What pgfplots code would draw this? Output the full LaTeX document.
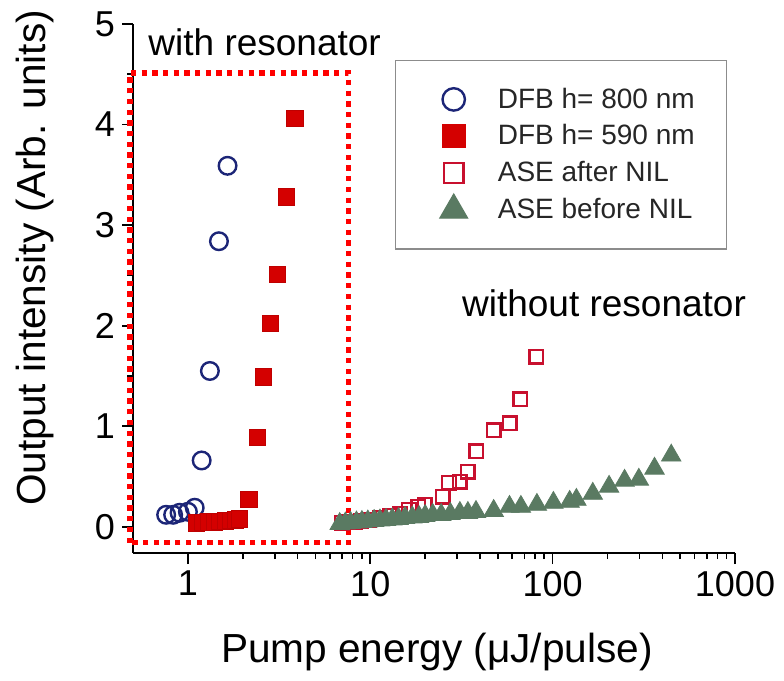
\documentclass[border=0pt]{standalone}
\usepackage{fontspec}
\setmainfont{Liberation Sans}
\usepackage{pgfplots}
\pgfplotsset{compat=1.18}

\definecolor{dfbblue}{HTML}{1C2577}
\definecolor{dfbred}{HTML}{D40000}
\definecolor{aseopen}{HTML}{C8102E}
\definecolor{asegreen}{HTML}{5A7A62}

\begin{document}
\begin{tikzpicture}
\path[use as bounding box] (-66.5pt,-64pt) rectangle (325.5pt,276.5pt);
\begin{axis}[
  scale only axis, width=301pt, height=264.5pt,
  xmode=log, xmin=0.5, xmax=1000, ymin=-0.26, ymax=5,
  axis lines*=left, tick pos=left,
  xtick={1,10,100,1000}, xticklabels={1,10,100,1000},
  ytick={0,1,2,3,4,5}, minor ytick={0.5,1.5,2.5,3.5,4.5},
  tick align=outside, major tick length=5.5pt, minor tick length=3pt,
  every tick/.style={black, line width=0.8pt},
  axis line style={line width=1pt},
  tick label style={font=\fontsize{18}{18}\selectfont},
  /pgf/number format/assume math mode=true,
  xlabel={Pump energy (μJ/pulse)},
  ylabel={Output intensity (Arb. units)},
  label style={font=\fontsize{20.3}{20.3}\selectfont},
  xlabel style={at={(axis description cs:0.505,0)}, anchor=base, yshift=-55pt},
  ylabel style={at={(axis description cs:-0.145,0.558)}, anchor=base},
  clip=false,
  legend cell align=left,
  legend image code/.code={
    \path (-6pt,0pt) (17pt,0pt);
    \draw[mark repeat=2, mark phase=2, #1] plot coordinates {(0cm,0cm) (0.3cm,0cm) (0.6cm,0cm)};},
  legend style={at={(axis description cs:0.435,0.932)}, anchor=north west,
    draw=black!45, line width=0.6pt, inner xsep=14pt, inner ysep=11.6pt,
    row sep=2.75pt, column sep=11pt, text=black!85,
    font=\fontsize{14}{14}\selectfont},
]
% DFB h = 800 nm
\addplot[forget plot, only marks, mark=o, mark size=4.4pt, dfbblue, line width=1.2pt]
  coordinates {(0.76,0.12) (0.83,0.12) (0.90,0.14) (1.0,0.15) (1.09,0.19)
  (1.19,0.66) (1.32,1.55) (1.48,2.84) (1.65,3.59)};
% DFB h = 590 nm
\addplot[forget plot, only marks, mark=square*, mark size=4.1pt, draw=dfbred!90!black, fill=dfbred]
  coordinates {(1.11,0.04) (1.2,0.045) (1.3,0.05) (1.4,0.05) (1.5,0.055) (1.6,0.06)
  (1.72,0.065) (1.82,0.07) (1.92,0.08) (2.16,0.27) (2.40,0.89) (2.59,1.49)
  (2.84,2.02) (3.09,2.51) (3.47,3.28) (3.86,4.06)};
% ASE after NIL
\addplot[forget plot, only marks, mark=square, mark size=3.4pt, aseopen, line width=1.2pt]
  coordinates {(7.0,0.04) (7.6,0.045) (8.2,0.05) (8.9,0.055) (9.9,0.07) (11.3,0.09)
  (12.8,0.11) (14.5,0.13) (16.3,0.17) (18.3,0.20) (19.9,0.22) (24.9,0.30)
  (27.0,0.44) (30.9,0.45) (34.3,0.55) (38.2,0.75) (47.5,0.96) (58.1,1.03)
  (66.5,1.27) (81.4,1.69)};
% ASE before NIL
\addplot[forget plot, only marks, mark=triangle*, mark size=5.6pt, draw=asegreen, fill=asegreen]
  coordinates {(6.8,0.03) (7.3,0.035) (7.8,0.04) (8.4,0.045) (9.0,0.05) (9.7,0.055)
  (10.5,0.06) (11.3,0.065) (12.2,0.07) (13.2,0.075) (14.3,0.08) (15.5,0.09)
  (17,0.095) (18.5,0.10) (20,0.11) (22,0.12) (24.5,0.12) (27.5,0.13) (31,0.14)
  (34.3,0.14) (38,0.15) (47.5,0.16) (58,0.20) (67,0.20) (82,0.22) (101,0.24)
  (124,0.25) (135,0.27) (166,0.33) (204,0.40) (248,0.46) (297,0.47) (362,0.58)
  (447,0.71)};

\addlegendimage{only marks, mark=o, mark size=5.6pt, dfbblue, line width=1.2pt}
\addlegendentry{DFB h= 800 nm}
\addlegendimage{only marks, mark=square*, mark size=5.7pt, draw=dfbred, fill=dfbred}
\addlegendentry{DFB h= 590 nm}
\addlegendimage{only marks, mark=square, mark size=4.9pt, aseopen, line width=1.2pt}
\addlegendentry{ASE after NIL}
\addlegendimage{only marks, mark=triangle*, mark size=8pt, draw=asegreen, fill=asegreen}
\addlegendentry{ASE before NIL}

\draw[red, line width=2.65pt, dash pattern=on 2.65pt off 2.7pt]
  (axis cs:0.481,-0.159) rectangle (axis cs:7.62,4.513);
\node[anchor=base west, font=\fontsize{18.5}{18.5}\selectfont]
  at (axis description cs:0.014,0.941) {with resonator};
\node[anchor=base west, font=\fontsize{18.5}{18.5}\selectfont]
  at (axis description cs:0.535,0.448) {without resonator};
\end{axis}
\end{tikzpicture}
\end{document}
